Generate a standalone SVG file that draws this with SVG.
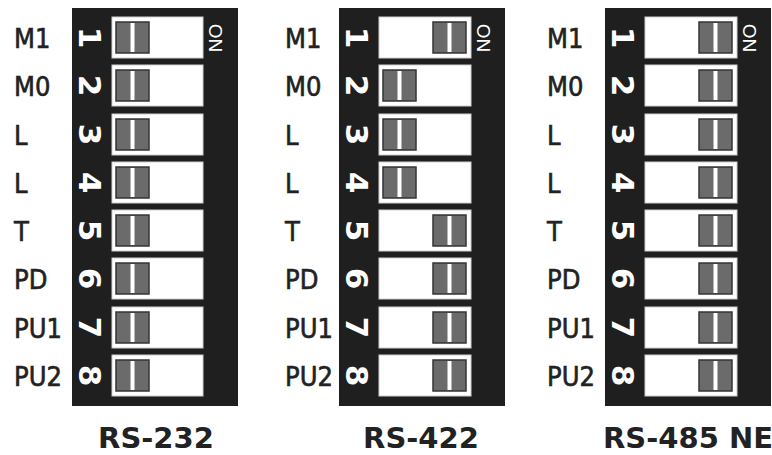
<svg xmlns="http://www.w3.org/2000/svg" xmlns:xlink="http://www.w3.org/1999/xlink" width="772" height="455" viewBox="0 0 772 455">
<style>
.panel{fill:#1f1f1f}
.sw{fill:#ffffff;stroke:#cfcfcf;stroke-width:1}
.lbl{font-family:"DejaVu Sans Condensed","DejaVu Sans",sans-serif;font-stretch:condensed;font-size:27px;fill:#222;stroke:#222;stroke-width:0.6}
.num{font-family:"DejaVu Sans",sans-serif;font-weight:bold;font-size:31px;fill:#ffffff;text-anchor:middle}
.on{font-family:"Liberation Sans",Arial,sans-serif;font-size:19px;fill:#ffffff;text-anchor:middle}
.title{font-family:"DejaVu Sans",sans-serif;font-weight:bold;font-size:29px;fill:#222;text-anchor:middle}
</style>
<defs>
<g id="slider">
<rect x="0" y="0" width="33" height="31" fill="#6b6b6b" stroke="#343434" stroke-width="1.5"/>
<rect x="14.5" y="1" width="4" height="29" fill="#ffffff"/>
</g>
</defs>
<rect width="772" height="455" fill="#ffffff"/>

<g id="rs232">
<rect class="panel" x="72" y="8" width="166" height="398"/>
<g class="lbl">
<text x="14" y="48">M1</text><text x="14" y="96">M0</text><text x="14" y="145">L</text><text x="14" y="193">L</text>
<text x="14" y="241">T</text><text x="14" y="289">PD</text><text x="14" y="338">PU1</text><text x="14" y="386">PU2</text>
</g>
<rect class="sw" x="112" y="17" width="91" height="41"/><rect class="sw" x="112" y="65" width="91" height="41"/>
<rect class="sw" x="112" y="114" width="91" height="41"/><rect class="sw" x="112" y="162" width="91" height="41"/>
<rect class="sw" x="112" y="210" width="91" height="41"/><rect class="sw" x="112" y="258" width="91" height="41"/>
<rect class="sw" x="112" y="307" width="91" height="41"/><rect class="sw" x="112" y="355" width="91" height="41"/>
<use xlink:href="#slider" x="116" y="22"/><use xlink:href="#slider" x="116" y="70"/>
<use xlink:href="#slider" x="116" y="119"/><use xlink:href="#slider" x="116" y="167"/>
<use xlink:href="#slider" x="116" y="215"/><use xlink:href="#slider" x="116" y="263"/>
<use xlink:href="#slider" x="116" y="312"/><use xlink:href="#slider" x="116" y="360"/>
<text class="num" transform="translate(79,37.5) rotate(90)">1</text>
<text class="num" transform="translate(79,85.5) rotate(90)">2</text>
<text class="num" transform="translate(79,134.5) rotate(90)">3</text>
<text class="num" transform="translate(79,182.5) rotate(90)">4</text>
<text class="num" transform="translate(79,230.5) rotate(90)">5</text>
<text class="num" transform="translate(79,278.5) rotate(90)">6</text>
<text class="num" transform="translate(79,327.5) rotate(90)">7</text>
<text class="num" transform="translate(79,375.5) rotate(90)">8</text>
<text class="on" transform="translate(209,38) rotate(90)">ON</text>
<text class="title" x="156" y="448">RS-232</text>
</g>

<g id="rs422">
<rect class="panel" x="339" y="8" width="166" height="398"/>
<g class="lbl">
<text x="285" y="48">M1</text><text x="285" y="96">M0</text><text x="285" y="145">L</text><text x="285" y="193">L</text>
<text x="285" y="241">T</text><text x="285" y="289">PD</text><text x="285" y="338">PU1</text><text x="285" y="386">PU2</text>
</g>
<rect class="sw" x="379" y="17" width="92" height="41"/><rect class="sw" x="379" y="65" width="92" height="41"/>
<rect class="sw" x="379" y="114" width="92" height="41"/><rect class="sw" x="379" y="162" width="92" height="41"/>
<rect class="sw" x="379" y="210" width="92" height="41"/><rect class="sw" x="379" y="258" width="92" height="41"/>
<rect class="sw" x="379" y="307" width="92" height="41"/><rect class="sw" x="379" y="355" width="92" height="41"/>
<use xlink:href="#slider" x="433" y="22"/><use xlink:href="#slider" x="383" y="70"/>
<use xlink:href="#slider" x="383" y="119"/><use xlink:href="#slider" x="383" y="167"/>
<use xlink:href="#slider" x="433" y="215"/><use xlink:href="#slider" x="433" y="263"/>
<use xlink:href="#slider" x="433" y="312"/><use xlink:href="#slider" x="433" y="360"/>
<text class="num" transform="translate(346,37.5) rotate(90)">1</text>
<text class="num" transform="translate(346,85.5) rotate(90)">2</text>
<text class="num" transform="translate(346,134.5) rotate(90)">3</text>
<text class="num" transform="translate(346,182.5) rotate(90)">4</text>
<text class="num" transform="translate(346,230.5) rotate(90)">5</text>
<text class="num" transform="translate(346,278.5) rotate(90)">6</text>
<text class="num" transform="translate(346,327.5) rotate(90)">7</text>
<text class="num" transform="translate(346,375.5) rotate(90)">8</text>
<text class="on" transform="translate(477,38) rotate(90)">ON</text>
<text class="title" x="421" y="448">RS-422</text>
</g>

<g id="rs485ne">
<rect class="panel" x="605" y="8" width="166" height="398"/>
<g class="lbl">
<text x="547" y="48">M1</text><text x="547" y="96">M0</text><text x="547" y="145">L</text><text x="547" y="193">L</text>
<text x="547" y="241">T</text><text x="547" y="289">PD</text><text x="547" y="338">PU1</text><text x="547" y="386">PU2</text>
</g>
<rect class="sw" x="645" y="17" width="92" height="41"/><rect class="sw" x="645" y="65" width="92" height="41"/>
<rect class="sw" x="645" y="114" width="92" height="41"/><rect class="sw" x="645" y="162" width="92" height="41"/>
<rect class="sw" x="645" y="210" width="92" height="41"/><rect class="sw" x="645" y="258" width="92" height="41"/>
<rect class="sw" x="645" y="307" width="92" height="41"/><rect class="sw" x="645" y="355" width="92" height="41"/>
<use xlink:href="#slider" x="699" y="22"/><use xlink:href="#slider" x="699" y="70"/>
<use xlink:href="#slider" x="699" y="119"/><use xlink:href="#slider" x="699" y="167"/>
<use xlink:href="#slider" x="699" y="215"/><use xlink:href="#slider" x="699" y="263"/>
<use xlink:href="#slider" x="699" y="312"/><use xlink:href="#slider" x="699" y="360"/>
<text class="num" transform="translate(612,37.5) rotate(90)">1</text>
<text class="num" transform="translate(612,85.5) rotate(90)">2</text>
<text class="num" transform="translate(612,134.5) rotate(90)">3</text>
<text class="num" transform="translate(612,182.5) rotate(90)">4</text>
<text class="num" transform="translate(612,230.5) rotate(90)">5</text>
<text class="num" transform="translate(612,278.5) rotate(90)">6</text>
<text class="num" transform="translate(612,327.5) rotate(90)">7</text>
<text class="num" transform="translate(612,375.5) rotate(90)">8</text>
<text class="on" transform="translate(743,38) rotate(90)">ON</text>
<text class="title" x="688" y="448">RS-485 NE</text>
</g>
</svg>
